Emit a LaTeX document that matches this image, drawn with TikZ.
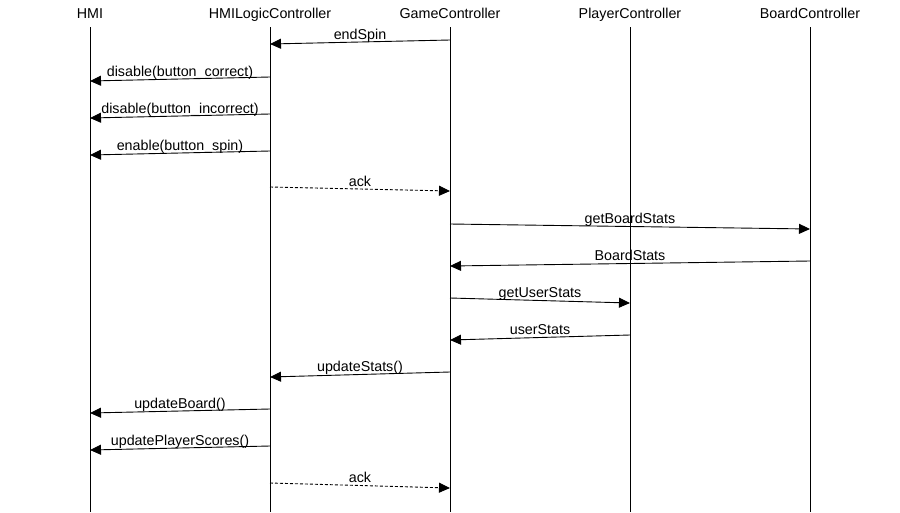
\documentclass[tikz,border=0pt]{standalone}
\usepackage{fontspec}
\setmainfont{Liberation Sans}
\usetikzlibrary{arrows.meta}
\begin{document}
\begin{tikzpicture}[x=1pt,y=-1pt,
  head/.style={font=\fontsize{14.3}{16}\selectfont, inner sep=0pt, anchor=base},
  life/.style={line width=1pt, black},
  msg/.style={line width=0.9pt, -{Triangle[length=11pt,width=10pt]}, shorten >=0pt},
  rmsg/.style={msg, densely dashed},
  lbl/.style={font=\fontsize{14.3}{16}\selectfont, inner sep=0pt, anchor=base, fill=none}]
\useasboundingbox (0,0) rectangle (900,512);
\fill[white] (0,0) rectangle (900,512);
% headers
\node[head] (hmi) at (90,18) {HMI};
\node[head] (hlc) at (270,18) {HMILogicController};
\node[head] (gc)  at (450,18) {GameController};
\node[head] (pc)  at (630,18) {PlayerController};
\node[head] (bc)  at (810,18) {BoardController};
% lifeline ends
\foreach \n/\x in {hmi/90,hlc/270,gc/450,pc/630,bc/810}{
  \coordinate (\n-top) at (\x,27);
  \coordinate (\n-bot) at (\x,512);
  \draw[life] (\n-top) -- (\n-bot);
}
% message endpoints
\coordinate (m1s) at (450,40);  \coordinate (m1e) at (270,44);
\coordinate (m2s) at (270,77);  \coordinate (m2e) at (90,81);
\coordinate (m3s) at (270,114); \coordinate (m3e) at (90,118);
\coordinate (m4s) at (270,151); \coordinate (m4e) at (90,155);
\coordinate (m5s) at (270,187); \coordinate (m5e) at (450,191);
\coordinate (m6s) at (450,224); \coordinate (m6e) at (810,229);
\coordinate (m7s) at (810,261); \coordinate (m7e) at (450,266);
\coordinate (m8s) at (450,298); \coordinate (m8e) at (630,303);
\coordinate (m9s) at (630,335); \coordinate (m9e) at (450,340);
\coordinate (m10s) at (450,372); \coordinate (m10e) at (270,377);
\coordinate (m11s) at (270,409); \coordinate (m11e) at (90,413);
\coordinate (m12s) at (270,446); \coordinate (m12e) at (90,450);
\coordinate (m13s) at (270,483); \coordinate (m13e) at (450,488);
% messages
\draw[msg]  (m1s) -- (m1e)  node[lbl, pos=0.5, yshift=3pt] (l1) {endSpin};
\draw[msg]  (m2s) -- (m2e)  node[lbl, pos=0.5, yshift=3pt] (l2) {disable(button\_correct)};
\draw[msg]  (m3s) -- (m3e)  node[lbl, pos=0.5, yshift=3pt] (l3) {disable(button\_incorrect)};
\draw[msg]  (m4s) -- (m4e)  node[lbl, pos=0.5, yshift=3pt] (l4) {enable(button\_spin)};
\draw[rmsg] (m5s) -- (m5e)  node[lbl, pos=0.5, yshift=3pt] (l5) {ack};
\draw[msg]  (m6s) -- (m6e)  node[lbl, pos=0.5, yshift=3pt] (l6) {getBoardStats};
\draw[msg]  (m7s) -- (m7e)  node[lbl, pos=0.5, yshift=3pt] (l7) {BoardStats};
\draw[msg]  (m8s) -- (m8e)  node[lbl, pos=0.5, yshift=3pt] (l8) {getUserStats};
\draw[msg]  (m9s) -- (m9e)  node[lbl, pos=0.5, yshift=3pt] (l9) {userStats};
\draw[msg]  (m10s) -- (m10e) node[lbl, pos=0.5, yshift=3pt] (l10) {updateStats()};
\draw[msg]  (m11s) -- (m11e) node[lbl, pos=0.5, yshift=3pt] (l11) {updateBoard()};
\draw[msg]  (m12s) -- (m12e) node[lbl, pos=0.5, yshift=3pt] (l12) {updatePlayerScores()};
\draw[rmsg] (m13s) -- (m13e) node[lbl, pos=0.5, yshift=3pt] (l13) {ack};
\end{tikzpicture}
\end{document}
